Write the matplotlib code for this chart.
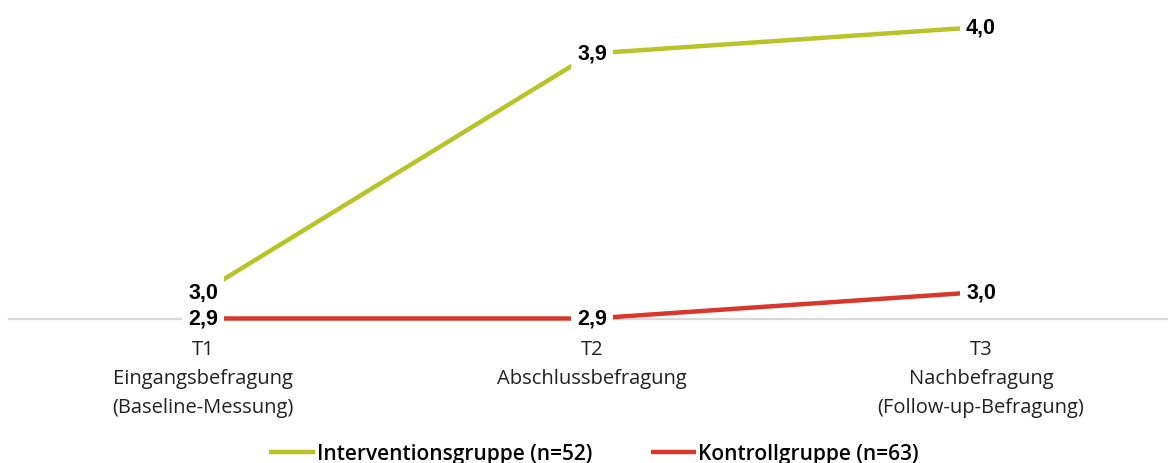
import matplotlib
matplotlib.use("Agg")
import matplotlib.pyplot as plt

# Survey waves and group means
categories = [
    "T1\nEingangsbefragung\n(Baseline-Messung)",
    "T2\nAbschlussbefragung",
    "T3\nNachbefragung\n(Follow-up-Befragung)",
]
intervention = [3.0, 3.9, 4.0]
kontrolle = [2.9, 2.9, 3.0]
series_names = ["Interventionsgruppe (n=52)", "Kontrollgruppe (n=63)"]

GREEN = "#b6c425"
RED = "#d8382a"

W, H = 1168, 464
fig = plt.figure(figsize=(W / 100, H / 100), dpi=100)
fig.patch.set_facecolor("white")

# axes placed in pixel units: x from 8.5 to 1175.5, y from bottom line (319.5 px) to top
left_px, right_px = 8.5, 1175.5
top_px, bottom_px = 1.5, 319.5
ax = fig.add_axes([left_px / W, (H - bottom_px) / H,
                   (right_px - left_px) / W, (bottom_px - top_px) / H])

x = list(range(len(categories)))
ax.set_xlim(-0.5, len(categories) - 0.5)
ax.set_ylim(2.9, 4.1)

l1, = ax.plot(x, intervention, color=GREEN, lw=3.2, solid_capstyle="butt",
              clip_on=False, zorder=3, label=series_names[0])
l2, = ax.plot(x, kontrolle, color=RED, lw=3.2, solid_capstyle="butt",
              clip_on=False, zorder=3, label=series_names[1])

label_font = dict(family=["Liberation Sans", "DejaVu Sans"], fontsize=15.5,
                  fontweight="bold", color="black")
box = dict(boxstyle="square,pad=0.3", fc="white", ec="none")
for series in (intervention, kontrolle):
    for xi, v in zip(x, series):
        ax.text(xi, v, f"{v:.1f}".replace(".", ","), ha="center", va="center",
                bbox=box, zorder=5, clip_on=False, **label_font)

for s in ("left", "right", "top"):
    ax.spines[s].set_visible(False)
ax.spines["bottom"].set_color("#d9d9d9")
ax.spines["bottom"].set_linewidth(1.6)
ax.spines["bottom"].set_zorder(1)
ax.set_yticks([])
ax.set_xticks(x)
ax.set_xticklabels(categories, family=["Open Sans", "DejaVu Sans"], fontsize=14.5,
                   color="#222222", linespacing=1.6)
ax.tick_params(axis="x", length=0, pad=15)

fig.legend(handles=[l1, l2], loc="center", bbox_to_anchor=(594 / W, (H - 455) / H),
           ncol=2, frameon=False, handlelength=2.2, handletextpad=0.1,
           columnspacing=2.8,
           prop=dict(family=["Open Sans", "DejaVu Sans"], size=15, weight="semibold"))

fig.savefig("out.png", dpi=100, facecolor="white")
